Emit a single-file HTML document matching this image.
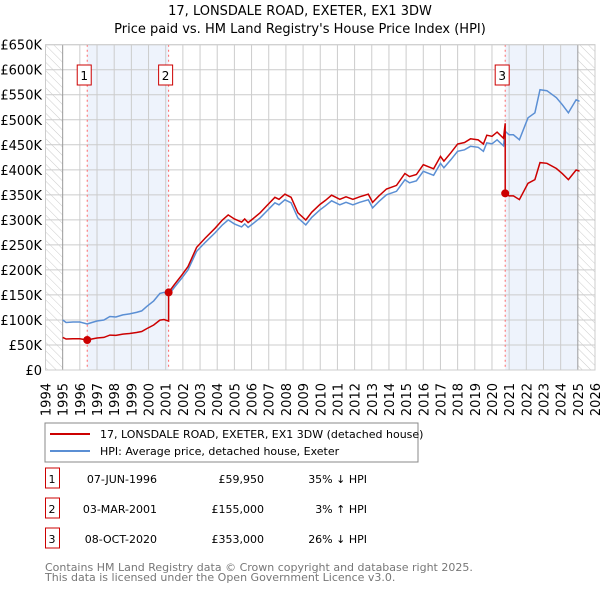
<!DOCTYPE html>
<html><head><meta charset="utf-8"><style>
body{margin:0;background:#fff;font-family:"Liberation Sans","DejaVu Sans",sans-serif;}
svg text{font-family:"DejaVu Sans","Liberation Sans",sans-serif;}
</style></head><body>
<svg id="c" width="600" height="590" xmlns="http://www.w3.org/2000/svg">
<defs><pattern id="hatch" width="6" height="6" patternUnits="userSpaceOnUse" patternTransform="rotate(-45)"><line x1="0" y1="0" x2="0" y2="6" stroke="#ccc" stroke-width="1"/></pattern></defs>
<text x="300" y="15" text-anchor="middle" font-size="13">17, LONSDALE ROAD, EXETER, EX1 3DW</text>
<text x="300" y="33" text-anchor="middle" font-size="13">Price paid vs. HM Land Registry's House Price Index (HPI)</text>
<g id="plot"></g>
<rect x="45" y="423" width="373" height="39" fill="#fff" stroke="#888"/>
<line x1="50" y1="434" x2="90" y2="434" stroke="#cc0000" stroke-width="2"/>
<text x="100" y="438" font-size="11">17, LONSDALE ROAD, EXETER, EX1 3DW (detached house)</text>
<line x1="50" y1="451" x2="90" y2="451" stroke="#5b8fd4" stroke-width="2"/>
<text x="100" y="455" font-size="11">HPI: Average price, detached house, Exeter</text>
<g id="table" font-size="11"></g>
<text x="45" y="571" font-size="11" fill="#777">Contains HM Land Registry data © Crown copyright and database right 2025.</text>
<text x="45" y="581" font-size="11" fill="#777">This data is licensed under the Open Government Licence v3.0.</text>
</svg>
<script>
const hpiDates=[1995.0,1995.2,1995.6,1996.0,1996.43,1996.7,1997.0,1997.4,1997.75,1998.1,1998.5,1998.9,1999.3,1999.6,1999.9,2000.3,2000.66,2000.9,2001.17,2001.5,2001.9,2002.3,2002.8,2003.3,2003.87,2004.3,2004.64,2005.0,2005.42,2005.6,2005.8,2006.1,2006.5,2006.9,2007.36,2007.6,2007.94,2008.3,2008.7,2009.16,2009.5,2009.98,2010.3,2010.66,2011.14,2011.5,2011.9,2012.3,2012.8,2013.05,2013.4,2013.86,2014.44,2014.93,2015.2,2015.6,2016.0,2016.6,2017.0,2017.2,2017.6,2018.0,2018.4,2018.75,2019.2,2019.5,2019.7,2020.0,2020.3,2020.67,2020.77,2021.0,2021.25,2021.6,2022.1,2022.5,2022.8,2023.2,2023.75,2024.1,2024.45,2024.9,2025.1];
const hpiValues=[100,95,96,96,92,95,98,100,107,106,110,112,115,118,127,138,153,155,150,165,182,200,237,255,274,290,300,292,286,292,285,293,304,318,334,330,340,334,304,290,305,320,328,338,330,335,330,335,340,324,336,350,357,380,374,378,397,389,413,404,420,437,440,447,445,437,454,452,460,448,477,470,470,460,504,514,560,558,544,530,514,540,537];
const saleLabels=["1","2","3"];
const saleDates=[1996.43,2001.17,2020.77];
const salePrices=[59.95,155,353];
const saleDateText=["07-JUN-1996","03-MAR-2001","08-OCT-2020"];
const salePriceText=["£59,950","£155,000","£353,000"];
const saleDiffText=["35% ↓ HPI","3% ↑ HPI","26% ↓ HPI"];
const yTicks=[0,50,100,150,200,250,300,350,400,450,500,550,600,650];
const yTickLabels=["£0","£50K","£100K","£150K","£200K","£250K","£300K","£350K","£400K","£450K","£500K","£550K","£600K","£650K"];
const xYears=[1994,1995,1996,1997,1998,1999,2000,2001,2002,2003,2004,2005,2006,2007,2008,2009,2010,2011,2012,2013,2014,2015,2016,2017,2018,2019,2020,2021,2022,2023,2024,2025,2026];

const NS="http://www.w3.org/2000/svg";
const X0=45.5,X1=595,Y0=370,Y1=44.7;
const x=t=>X0+(t-1994)/(2026-1994)*(X1-X0);
const y=v=>Y0-v/650*(Y0-Y1);
const g=document.getElementById('plot');
function mk(tag,attrs,parent){const e=document.createElementNS(NS,tag);for(const k in attrs)e.setAttribute(k,attrs[k]);(parent||g).appendChild(e);return e;}
function hpiAt(t){for(let i=1;i<hpiDates.length;i++){if(t<=hpiDates[i]){const f=(t-hpiDates[i-1])/(hpiDates[i]-hpiDates[i-1]);return hpiValues[i-1]+f*(hpiValues[i]-hpiValues[i-1]);}}return hpiValues[hpiValues.length-1];}

// shaded periods
let e=mk('rect',{x:x(saleDates[0]),y:Y1,width:x(saleDates[1])-x(saleDates[0]),height:Y0-Y1,fill:'#eef3fc'});


e=mk('rect',{x:x(saleDates[2]),y:Y1,width:x(2025)-x(saleDates[2]),height:Y0-Y1,fill:'#eef3fc'});


// hatched
e=mk('rect',{x:x(1994),y:Y1,width:x(1995)-x(1994),height:Y0-Y1,fill:'url(#hatch)'});


e=mk('rect',{x:x(2025),y:Y1,width:x(2026)-x(2025),height:Y0-Y1,fill:'url(#hatch)'});


// grid
yTicks.forEach((v,i)=>{
 const l=mk('line',{x1:X0,x2:X1,y1:y(v),y2:y(v),stroke:'#cccccc'});
 
 
 const t=mk('text',{x:42,y:y(v)+5,'text-anchor':'end','font-size':'13'});
 t.textContent=yTickLabels[i];
 
 
});
xYears.forEach(yr=>{
 const l=mk('line',{x1:x(yr),x2:x(yr),y1:Y1,y2:Y0,stroke:(yr==1995||yr==2025)?'#999':'#cccccc'});
 
 
 const t=mk('text',{x:0,y:0,'text-anchor':'end','font-size':'13',transform:`translate(${x(yr)+5},383) rotate(-90)`});
 t.textContent=yr;
 
 
});
// sale lines and labels
saleDates.forEach((d,i)=>{
 const l=mk('line',{x1:x(d),x2:x(d),y1:Y1,y2:Y0,stroke:'#ff6666','stroke-dasharray':'2,3'});
 
 
 const r=mk('rect',{x:x(d)-10,y:65,width:14,height:20,fill:'#fff',stroke:'#cc0000'});
 
 
 const t=mk('text',{x:x(d)-3,y:80,'text-anchor':'middle','font-size':'12'});
 t.textContent=saleLabels[i];
 
 
});
// HPI line
const hp=hpiDates.map((d,i)=>x(d).toFixed(1)+','+y(hpiValues[i]).toFixed(1)).join(' ');
e=mk('polyline',{points:hp,fill:'none',stroke:'#5b8fd4','stroke-width':1.5});


// property line: HPI indexed to each sale
const ratios=saleDates.map((d,i)=>salePrices[i]/hpiAt(d));
const pts=[];
hpiDates.forEach((d,i)=>{
 let k=0;for(let j=0;j<saleDates.length;j++)if(d>=saleDates[j])k=j;
 for(let j=1;j<saleDates.length;j++){ if(d>=saleDates[j] && (i==0||hpiDates[i-1]<saleDates[j])){pts.push([saleDates[j],hpiAt(saleDates[j])*ratios[j-1]]);pts.push([saleDates[j],salePrices[j]]);} }
 pts.push([d,hpiValues[i]*ratios[k]]);
});
e=mk('polyline',{points:pts.map(p=>x(p[0]).toFixed(1)+','+y(p[1]).toFixed(1)).join(' '),fill:'none',stroke:'#cc0000','stroke-width':1.5});


saleDates.forEach((d,i)=>{
 const c=mk('circle',{cx:x(d),cy:y(salePrices[i]),r:4,fill:'#cc0000'});
 
 
});
// frame
e=mk('rect',{x:X0,y:Y1,width:X1-X0,height:Y0-Y1,fill:'none',stroke:'#cccccc'});


// table
const tb=document.getElementById('table');
saleDates.forEach((d,i)=>{
 const yy=483+i*30;
 const r=mk('rect',{x:45.5,y:yy-15,width:14,height:20,fill:'#fff',stroke:'#cc0000'},tb);
 
 
 const cells=[[52,'middle',saleLabels[i],'table-number'],[157,'end',saleDateText[i],'table-date'],[264,'end',salePriceText[i],'table-price'],[367,'end',saleDiffText[i],'table-hpi-diff']];
 cells.forEach(c=>{const t=mk('text',{x:c[0],y:yy,'text-anchor':c[1],'font-size':'11'},tb);t.textContent=c[2];
 
 });
});
</script>
</body></html>
